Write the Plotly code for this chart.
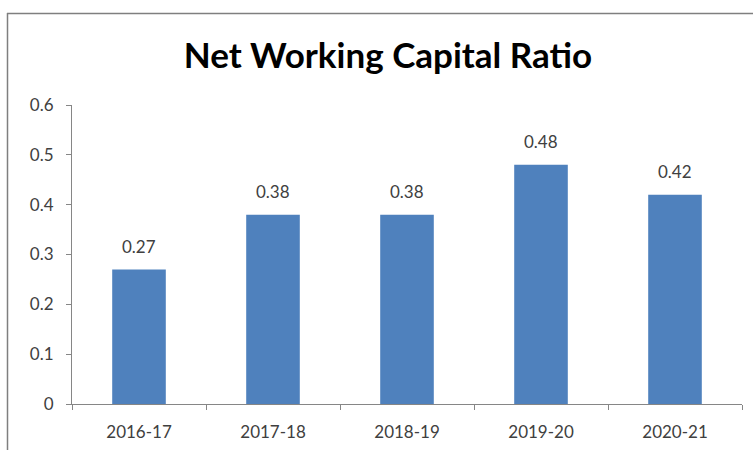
import plotly.graph_objects as go

categories = ["2016-17", "2017-18", "2018-19", "2019-20", "2020-21"]
values = [0.27, 0.38, 0.38, 0.48, 0.42]
y_ticks = [0, 0.1, 0.2, 0.3, 0.4, 0.5, 0.6]
y_tick_labels = ["0", "0.1", "0.2", "0.3", "0.4", "0.5", "0.6"]
title_text = "Net Working Capital Ratio"

W, H = 753, 450
L, R, T, B = 72, 11, 105, 46
pw, ph = W - L - R, H - T - B

def px2x(px):
    return (px - L) / pw

def py2y(py):
    return (H - B - py) / ph

FONT = "Lato, Carlito, sans-serif"

fig = go.Figure()
fig.add_trace(go.Bar(
    x=categories, y=values,
    marker=dict(color="#4F81BD", line=dict(width=0)),
    width=0.4,
    cliponaxis=False,
))

for c, v in zip(categories, values):
    fig.add_annotation(
        x=c, y=v, text=f"{v:.2f}", showarrow=False,
        yanchor="middle", yshift=23,
        font=dict(family=FONT, size=17, color="#404040"),
    )

fig.update_layout(
    width=W, height=H,
    margin=dict(l=L, r=R, t=T, b=B),
    paper_bgcolor="white", plot_bgcolor="white",
    showlegend=False,
    font=dict(family=FONT, color="#595959", size=17),
    title=dict(
        text=f"<b>{title_text}</b>",
        x=388 / W, xanchor="center",
        y=1 - 56 / H, yanchor="middle",
        font=dict(family=FONT, size=35, color="#000000"),
    ),
    xaxis=dict(
        showline=True, linecolor="#868686", linewidth=1,
        ticks="outside", tickson="boundaries", ticklen=5, tickcolor="#868686",
        showgrid=False, zeroline=False, automargin=False,
        ticklabelstandoff=13,
        tickfont=dict(size=17, color="#404040"),
    ),
    yaxis=dict(
        range=[0, 0.6], tickvals=y_ticks, ticktext=y_tick_labels,
        showline=True, linecolor="#868686", linewidth=1,
        ticks="outside", ticklen=5, tickcolor="#868686",
        showgrid=False, zeroline=False, automargin=False,
        ticklabelstandoff=9,
        tickfont=dict(size=17, color="#404040"),
    ),
)

# chart area border (left and top edges visible)
fig.add_shape(type="line", xref="paper", yref="paper",
              x0=px2x(7.5), x1=px2x(7.5), y0=py2y(13), y1=py2y(452),
              line=dict(color="#7F7F7F", width=1.5))
fig.add_shape(type="line", xref="paper", yref="paper",
              x0=px2x(7), x1=px2x(760), y0=py2y(13.5), y1=py2y(13.5),
              line=dict(color="#7F7F7F", width=1.5))

fig.write_html("out.html")
